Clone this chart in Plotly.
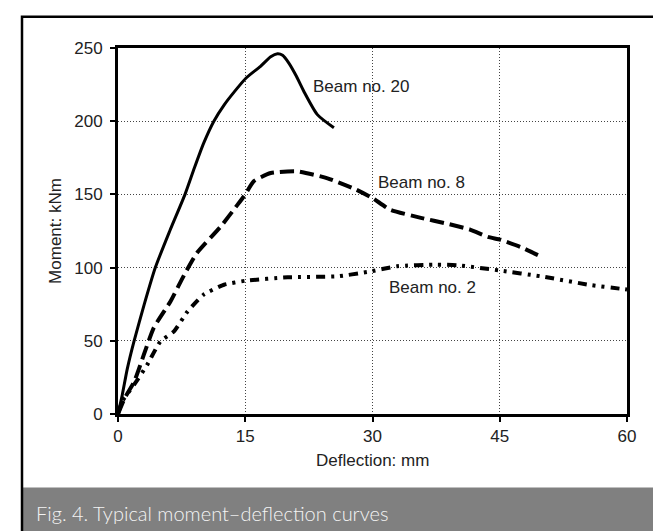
import plotly.graph_objects as go

# Deflection (mm) / moment (kNm)
beam20_x = [0, 0.5, 1.1, 1.9, 3.1, 4.4, 6.1, 7.9, 9, 10.1, 11.3, 12.5, 13.7, 15.1, 16.8, 18, 18.8, 19.4, 20.1, 21, 21.9, 23.5, 25.45]
beam20_y = [0, 13, 31, 50, 75, 100, 125, 150, 168, 185, 200, 211, 220, 229.5, 237.5, 244, 246, 245, 240, 231, 220.5, 204.5, 195.5]

beam8_x = [0, 0.8, 1.9, 4.2, 6.2, 7.8, 9.3, 12.1, 14.1, 15, 16, 18, 21.1, 24.7, 27.8, 30, 32.1, 35.7, 38.8, 41.5, 43.6, 45.1, 47.5, 49.5]
beam8_y = [0, 11, 22, 58.7, 77, 95, 110, 128, 143, 150, 159, 164.6, 165.8, 161, 154, 147.5, 139.5, 134, 130, 126, 121, 119, 114, 108.5]

beam2_x = [0, 0.5, 1.9, 3.45, 5, 6.6, 8.2, 10.1, 12.5, 15, 20, 25.8, 29.4, 32.9, 37.6, 40.1, 45, 49.9, 55.8, 59.3, 60]
beam2_y = [0, 8.7, 20, 33.7, 49.6, 56.5, 70, 81.5, 88.3, 91, 93.4, 94, 97, 100.9, 102, 101.6, 98, 94, 88, 85.5, 85]

x_ticks = [0, 15, 30, 45, 60]
y_ticks = [0, 50, 100, 150, 200, 250]

labels = ["Beam no. 20", "Beam no. 8", "Beam no. 2"]
label_x = [22.8, 30.4, 31.65]
label_y = [224, 158, 86.3]

TXT = dict(family="Liberation Sans", size=17, color="#222")

fig = go.Figure()

fig.add_trace(go.Scatter(x=beam20_x, y=beam20_y, mode="lines",
                         line=dict(color="black", width=3, shape="spline", smoothing=0.6)))
fig.add_trace(go.Scatter(x=beam8_x, y=beam8_y, mode="lines",
                         line=dict(color="black", width=4, dash="14px,6px",
                                   shape="spline", smoothing=0.5)))
fig.add_trace(go.Scatter(x=beam2_x, y=beam2_y, mode="lines",
                         line=dict(color="black", width=4, dash="9px,6px,3px,6px,3px,6px",
                                   shape="spline", smoothing=0.5)))

for txt, lx, ly in zip(labels, label_x, label_y):
    fig.add_annotation(x=lx, y=ly, text=txt, showarrow=False, xanchor="left",
                       yanchor="middle", font=TXT)

# axis titles
fig.add_annotation(xref="paper", yref="paper", x=-0.124, y=0.5, text="Moment: kNm",
                   textangle=-90, showarrow=False, xanchor="center", yanchor="middle",
                   font=TXT)
fig.add_annotation(xref="paper", yref="paper", x=0.5, y=-0.128, text="Deflection: mm",
                   showarrow=False, xanchor="center", yanchor="middle", font=TXT)

# caption band and frame
fig.add_shape(type="rect", xref="paper", yref="paper", x0=-0.1886, x1=1.0688,
              y0=-0.4, y1=-0.2005, fillcolor="#808080", line=dict(width=0), layer="below")
fig.add_shape(type="rect", xref="paper", yref="paper", x0=-0.1886, x1=1.0688,
              y0=-0.4, y1=1.0852, line=dict(color="black", width=2.5))
fig.add_annotation(xref="paper", yref="paper", x=-0.165, y=-0.271, xanchor="left",
                   yanchor="middle",
                   text="Fig. 4. Typical moment\u2013deflection curves", showarrow=False,
                   font=dict(family="Lato", size=20, color="#f4f4f4", weight=300))

axis_style = dict(showgrid=True, gridcolor="#444", griddash="1px,2px", gridwidth=1,
                  showline=True, linecolor="black", linewidth=3, mirror=True,
                  ticks="outside", ticklen=5, tickwidth=2, tickcolor="black",
                  zeroline=False, tickfont=TXT)
fig.update_xaxes(range=[0, 60], tickvals=x_ticks, **axis_style)
fig.update_yaxes(range=[0, 250], tickvals=y_ticks, ticklabelstandoff=4, **axis_style)

fig.update_layout(
    width=661, height=531,
    margin=dict(l=110, r=42, t=40, b=125),
    plot_bgcolor="white", paper_bgcolor="white",
    showlegend=False,
)

fig.write_html("out.html")
